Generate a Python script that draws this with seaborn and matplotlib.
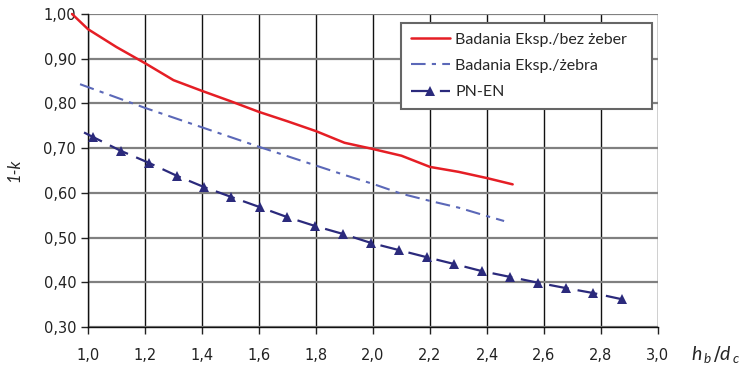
import numpy as np
import pandas as pd
import matplotlib
matplotlib.use('Agg')
import matplotlib.pyplot as plt
import seaborn as sns
from matplotlib.ticker import FuncFormatter

# Badania Eksp./bez zeber (czerwona)
x_bez = [0.944, 1.0, 1.1, 1.2, 1.3, 1.4, 1.5, 1.6, 1.7, 1.8, 1.9, 2.0, 2.1, 2.2, 2.3, 2.4, 2.49]
y_bez = [1.000, 0.966, 0.926, 0.890, 0.852, 0.828, 0.805, 0.781, 0.760, 0.738, 0.712, 0.698, 0.683, 0.658, 0.647, 0.633, 0.619]

# Badania Eksp./zebra (niebieska, kreska-kropka)
x_zeb = [0.972, 1.2, 1.6, 1.9, 2.0, 2.1, 2.2, 2.3, 2.4, 2.46]
y_zeb = [0.843, 0.790, 0.703, 0.640, 0.620, 0.598, 0.582, 0.567, 0.548, 0.537]

# PN-EN (trojkaty)
x_pn = [0.986, 1.017, 1.115, 1.214, 1.312, 1.407, 1.502, 1.603, 1.698, 1.796, 1.895,
        1.993, 2.091, 2.189, 2.284, 2.382, 2.481, 2.579, 2.677, 2.772, 2.874]
y_pn = [0.735, 0.725, 0.694, 0.667, 0.638, 0.613, 0.591, 0.568, 0.546, 0.526, 0.508,
        0.488, 0.472, 0.456, 0.441, 0.425, 0.412, 0.399, 0.387, 0.376, 0.362]

x_ticks = [1.0, 1.2, 1.4, 1.6, 1.8, 2.0, 2.2, 2.4, 2.6, 2.8, 3.0]
y_ticks = [0.30, 0.40, 0.50, 0.60, 0.70, 0.80, 0.90, 1.00]

sns.set_style('white')
plt.rcParams['font.family'] = ['DejaVu Sans']
plt.rcParams['mathtext.fontset'] = 'custom'
plt.rcParams['mathtext.it'] = 'Lato:italic'

fig = plt.figure(figsize=(7.44, 3.70), dpi=100)
ax = fig.add_axes([0.1183, 0.1162, 0.7661, 0.846])

sns.lineplot(x=x_bez, y=y_bez, ax=ax, color='#e51e25', lw=1.8,
             label='Badania Eksp./bez żeber', clip_on=False, zorder=4)
sns.lineplot(x=x_zeb, y=y_zeb, ax=ax, color='#5b68b8', lw=1.5,
             dashes=(7, 3, 2, 3), label='Badania Eksp./żebra', clip_on=False, zorder=4)
sns.lineplot(x=x_pn, y=y_pn, ax=ax, color='#2b2a7c', lw=1.6,
             dashes=(9, 4), marker='^', markersize=7, markevery=list(range(1, len(x_pn))),
             markeredgewidth=0, label='PN-EN', clip_on=False, zorder=5)

ax.set_xlim(1.0, 3.0)
ax.set_ylim(0.30, 1.00)
ax.set_xticks(x_ticks)
ax.set_yticks(y_ticks)
ax.xaxis.set_major_formatter(FuncFormatter(lambda v, p: f'{v:.1f}'.replace('.', ',')))
ax.yaxis.set_major_formatter(FuncFormatter(lambda v, p: f'{v:.2f}'.replace('.', ',')))
ax.tick_params(axis='both', labelsize=10.5, colors='#222222', length=5, width=1,
               direction='out', bottom=True, left=True)
ax.tick_params(axis='x', pad=10)

ax.grid(axis='x', color='#111111', lw=1)
ax.grid(axis='y', color='#808080', lw=1.6)
ax.set_axisbelow(True)
for s in ['top', 'right']:
    ax.spines[s].set_visible(False)
for s in ['left', 'bottom']:
    ax.spines[s].set_color('#111111')
    ax.spines[s].set_linewidth(1)

ax.set_ylabel('1-k', fontsize=12, fontstyle='italic', family='Lato', labelpad=15)
ax.set_xlabel('')
fig.text(0.962, 0.043, r'$h_{\,b}\,/d_{\,c}$', fontsize=14, ha='center', va='center')

leg = ax.legend(loc='upper left', bbox_to_anchor=(0.549, 0.693, 0.44, 0.278),
                mode='expand', borderaxespad=0, fancybox=False, framealpha=1,
                edgecolor='#666666', prop={'family': 'Lato', 'size': 11.5},
                handlelength=2.5, handletextpad=0.3, labelspacing=0.75,
                borderpad=0.6)
leg.get_frame().set_linewidth(1.5)

fig.savefig('out.png', dpi=100)
